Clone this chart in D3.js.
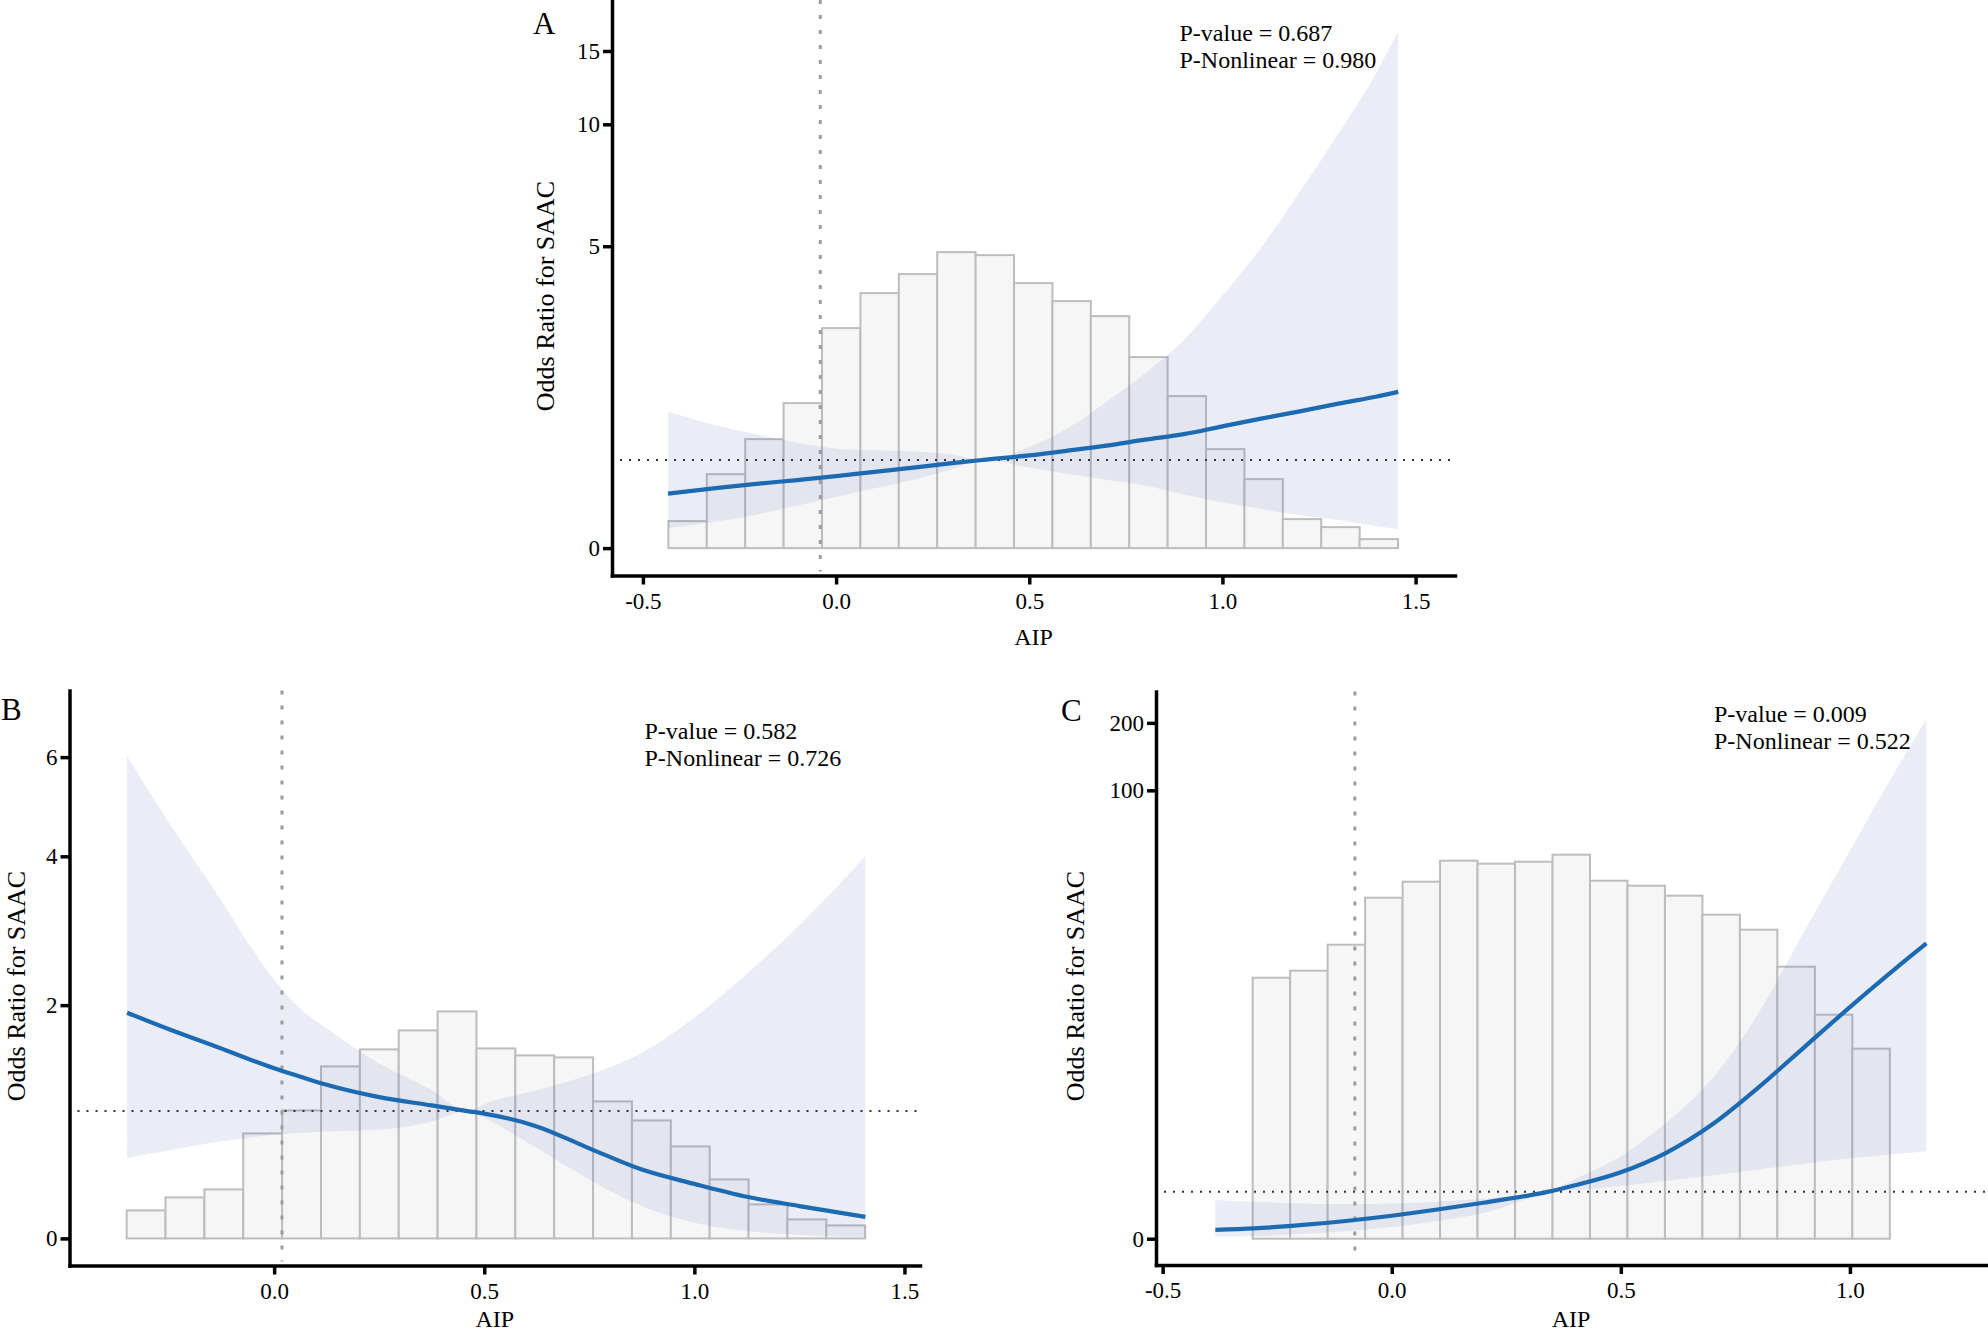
<!DOCTYPE html>
<html>
<head>
<meta charset="utf-8">
<script src="https://cdn.jsdelivr.net/npm/d3@7"></script>
<style>
  body { margin: 0; background: #fff; }
  svg { display: block; }
  svg text { font-family: "Liberation Serif", "DejaVu Serif", "Times New Roman", serif; }
</style>
</head>
<body>
<svg id="chart" width="1988" height="1336"></svg>
<script>
// ---- Panel A ----
const histA = [27, 74, 109, 145, 220, 255, 274, 296, 293, 265, 247, 232, 191, 152, 99, 69, 29, 21, 9]
const aipA = [-0.435, -0.3, -0.2, -0.1, 0, 0.1, 0.2, 0.3, 0.38, 0.5, 0.6, 0.7, 0.8, 0.9, 1.0, 1.1, 1.2, 1.3, 1.4, 1.455]
const orA  = [0.604, 0.672, 0.718, 0.760, 0.805, 0.857, 0.907, 0.961, 1.0, 1.056, 1.115, 1.178, 1.254, 1.325, 1.429, 1.533, 1.634, 1.745, 1.85, 1.92]
const loA  = [0.22, 0.297, 0.373, 0.469, 0.566, 0.664, 0.764, 0.887, 1.0, 0.907, 0.833, 0.764, 0.696, 0.593, 0.507, 0.431, 0.361, 0.309, 0.24, 0.21]
const upA  = [1.63, 1.43, 1.316, 1.213, 1.139, 1.118, 1.105, 1.066, 1.0, 1.16, 1.406, 1.77, 2.21, 2.79, 3.71, 4.96, 6.84, 9.48, 13.4, 16.7]

// ---- Panel B ----
const histB = [28, 41, 49, 105, 128, 172, 189, 208, 227, 190, 183, 181, 137, 118, 92, 59, 34, 19, 13]
const aipB = [-0.35, -0.25, -0.125, -0.0625, 0, 0.0625, 0.125, 0.25, 0.375, 0.46, 0.5, 0.625, 0.75, 0.875, 1.0, 1.125, 1.25, 1.407]
const orB  = [1.92, 1.75, 1.56, 1.465, 1.377, 1.30, 1.227, 1.119, 1.048, 1.0, 0.978, 0.872, 0.694, 0.526, 0.415, 0.316, 0.245, 0.163]
const loB  = [0.618, 0.676, 0.75, 0.778, 0.804, 0.818, 0.831, 0.845, 0.913, 1.0, 0.941, 0.696, 0.449, 0.245, 0.119, 0.056, 0.026, 0.011]
const upB  = [6.02, 4.6, 3.3, 2.73, 2.28, 1.96, 1.76, 1.42, 1.18, 1.0, 1.06, 1.18, 1.316, 1.52, 1.87, 2.35, 2.96, 4.0]

// ---- Panel C ----
const histC = [261, 268, 294, 341, 357, 378, 375, 377, 384, 358, 353, 343, 324, 309, 272, 224, 190]
const aipC = [-0.385, -0.3, -0.2, -0.1, 0, 0.1, 0.2, 0.3, 0.34, 0.4, 0.5, 0.6, 0.7, 0.8, 0.9, 1.0, 1.1, 1.167]
const orC  = [0.183, 0.212, 0.278, 0.366, 0.475, 0.609, 0.755, 0.92, 1.0, 1.154, 1.474, 2.01, 2.93, 4.51, 7.0, 10.7, 16.0, 20.7]
const loC  = [0.039, 0.05, 0.097, 0.154, 0.241, 0.366, 0.534, 0.857, 1.0, 1.04, 1.137, 1.264, 1.395, 1.546, 1.696, 1.845, 1.965, 2.05]
const upC  = [0.817, 0.779, 0.739, 0.724, 0.739, 0.779, 0.841, 0.95, 1.0, 1.3, 1.9, 3.0, 5.0, 10.0, 23.4, 53.8, 123, 208]

// p-values shown in each panel
const pValues = ["0.687", "0.582", "0.009"]
const pNonlinear = ["0.980", "0.726", "0.522"]

const FONT = "'Liberation Serif', 'DejaVu Serif', 'Times New Roman', serif"
const svg = d3.select("#chart")

// pseudo-log transform (asinh) used on the OR axis
const orT = v => Math.asinh(v / 2)
const orInv = t => 2 * Math.sinh(t)

const panels = [
  { letter: "A", hist: histA, binStart: -0.434, binWidth: 0.0994, histMax: 296,
    aip: aipA, or: orA, lo: loA, up: upA, cut: -0.041,
    left: 612, right: 1455, top: 0, bottom: 575.5,
    xDomain: [-0.58, 1.602], yDomain: [-0.3, 19.85],
    xTicks: [-0.5, 0, 0.5, 1, 1.5], yTicks: [0, 5, 10, 15],
    letterPos: [533, 34], ylabX: 545, ylabY: 296, xlabY: 645, annot: [1179.5, 40.5], idx: 0 },
  { letter: "B", hist: histB, binStart: -0.351, binWidth: 0.0925, histMax: 227,
    aip: aipB, or: orB, lo: loB, up: upB, cut: 0.0186,
    left: 69.5, right: 920, top: 690.5, bottom: 1265.5,
    xDomain: [-0.487, 1.537], yDomain: [-0.205, 7.8],
    xTicks: [0, 0.5, 1, 1.5], yTicks: [0, 2, 4, 6],
    letterPos: [1, 720], ylabX: 16, ylabY: 986, xlabY: 1327, annot: [644.5, 739], idx: 1 },
  { letter: "C", hist: histC, binStart: -0.3035, binWidth: 0.0818, histMax: 384,
    aip: aipC, or: orC, lo: loC, up: upC, cut: -0.0805,
    left: 1156, right: 1986, top: 691.5, bottom: 1265,
    xDomain: [-0.5145, 1.297], yDomain: [-0.547, 276],
    xTicks: [-0.5, 0, 0.5, 1], yTicks: [0, 100, 200],
    letterPos: [1061, 721], ylabX: 1075, ylabY: 986, xlabY: 1327, annot: [1714, 722], idx: 2 }
]

function drawPanel(p) {
  const g = svg.append("g")
  const x = d3.scaleLinear().domain(p.xDomain).range([p.left, p.right])
  const yt = d3.scaleLinear().domain(p.yDomain.map(orT)).range([p.bottom, p.top])
  const y = v => yt(orT(v))
  const base = y(0)
  const h = d3.scaleLinear().domain([0, d3.max(p.hist)]).range([base, base - p.histMax])

  // histogram
  g.selectAll("rect.bin")
    .data(p.hist)
    .join("rect")
    .attr("class", "bin")
    .attr("x", (d, i) => x(p.binStart + i * p.binWidth))
    .attr("width", x(p.binStart + p.binWidth) - x(p.binStart))
    .attr("y", d => h(d))
    .attr("height", d => base - h(d))
    .attr("fill", "#f7f6f7")
    .attr("stroke", "#bdbdbf")
    .attr("stroke-width", 2)

  // confidence band
  const pts = p.aip.map((a, i) => ({ a: a, or: p.or[i], lo: p.lo[i], up: p.up[i] }))
  const band = d3.area()
    .x(d => x(d.a))
    .y0(d => y(d.lo))
    .y1(d => y(d.up))
    .curve(d3.curveMonotoneX)
  g.append("path")
    .attr("d", band(pts))
    .attr("fill", "#5069b4")
    .attr("fill-opacity", 0.12)

  // vertical dotted line
  g.append("line")
    .attr("x1", x(p.cut)).attr("x2", x(p.cut))
    .attr("y1", p.top).attr("y2", p.bottom - 4)
    .attr("stroke", "#9d9d9d")
    .attr("stroke-width", 3)
    .attr("stroke-dasharray", "4,11")

  // reference OR = 1
  g.append("line")
    .attr("x1", p.left + 8).attr("x2", p.right)
    .attr("y1", y(1)).attr("y2", y(1))
    .attr("stroke", "#333")
    .attr("stroke-width", 2)
    .attr("stroke-dasharray", "2,7")

  // OR curve
  const line = d3.line()
    .x(d => x(d.a))
    .y(d => y(d.or))
    .curve(d3.curveMonotoneX)
  g.append("path")
    .attr("d", line(pts))
    .attr("fill", "none")
    .attr("stroke", "#1c6ab2")
    .attr("stroke-width", 4.2)

  // axes
  const xAxis = d3.axisBottom(x)
    .tickValues(p.xTicks)
    .tickFormat(d => d.toFixed(1))
    .tickSize(9).tickPadding(8).tickSizeOuter(0)
  const yAxis = d3.axisLeft(yt)
    .tickValues(p.yTicks.map(orT))
    .tickFormat(t => Math.round(orInv(t)))
    .tickSize(9).tickPadding(3).tickSizeOuter(0)

  const gx = g.append("g").attr("transform", "translate(0," + p.bottom + ")").call(xAxis)
  const gy = g.append("g").attr("transform", "translate(" + p.left + ",0)").call(yAxis)
  ;[gx, gy].forEach(ax => {
    ax.attr("font-family", null)
    ax.select(".domain").attr("stroke", "#000").attr("stroke-width", 3.5).attr("stroke-linecap", "square")
    ax.selectAll(".tick line").attr("stroke", "#000").attr("stroke-width", 3.5)
    ax.selectAll(".tick text")
      .attr("fill", "#000")
      .attr("font-family", FONT)
      .attr("font-size", 23)
  })

  // titles
  g.append("text")
    .attr("x", (p.left + p.right) / 2)
    .attr("y", p.xlabY)
    .attr("text-anchor", "middle")
    .attr("font-size", 24)
    .text("AIP")

  g.append("text")
    .attr("transform", "translate(" + p.ylabX + "," + p.ylabY + ") rotate(-90)")
    .attr("text-anchor", "middle")
    .attr("dy", "0.35em")
    .attr("font-size", 26)
    .text("Odds Ratio for SAAC")

  g.append("text")
    .attr("x", p.letterPos[0])
    .attr("y", p.letterPos[1])
    .attr("font-size", 31)
    .text(p.letter)

  g.append("text")
    .attr("x", p.annot[0])
    .attr("y", p.annot[1])
    .attr("font-size", 24)
    .text("P-value = " + pValues[p.idx])

  g.append("text")
    .attr("x", p.annot[0])
    .attr("y", p.annot[1] + 27)
    .attr("font-size", 24)
    .text("P-Nonlinear = " + pNonlinear[p.idx])
}

panels.forEach(drawPanel)
</script>
</body>
</html>
